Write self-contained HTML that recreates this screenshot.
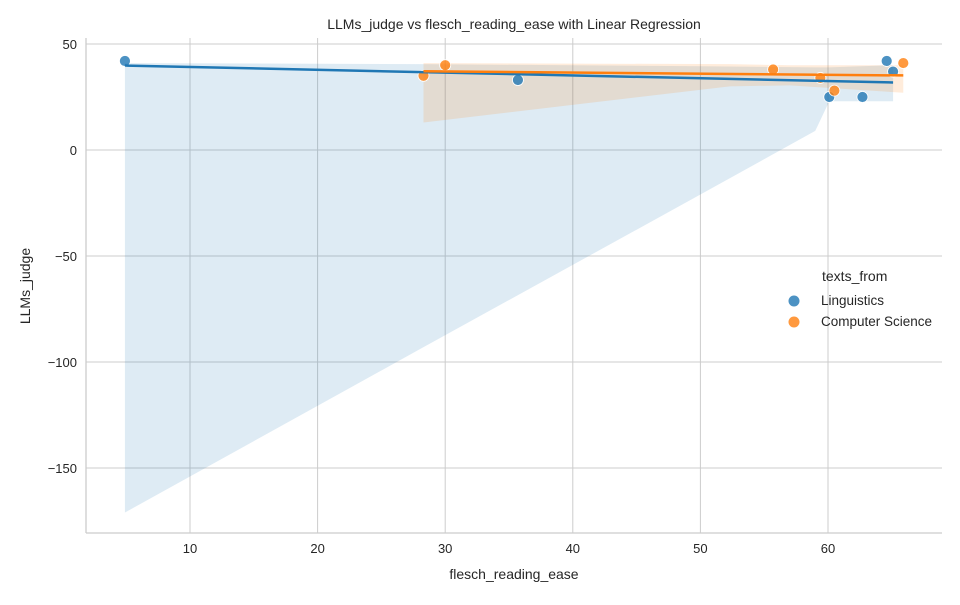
<!DOCTYPE html>
<html><head><meta charset="utf-8"><style>
body{margin:0;background:#fff;}
svg text{font-family:"Liberation Sans",sans-serif;fill:#262626;}
</style></head><body>
<svg id="c" width="960" height="600"></svg>
<script>
const lingX=[4.9,35.7,60.1,62.7,64.6,65.1];
const lingY=[42,33,25,25,42,37];
const csX=[28.3,30.0,55.7,59.4,60.5,65.9];
const csY=[35,40,38,34,28,41];
const xTicks=[10,20,30,40,50,60];
const yTicks=[50,0,-50,-100,-150];
const lingBandX=[4.9,28,50,59,60.1,65.1];
const lingBandUp=[41,40.5,39.5,39,39,40];
const lingBandLo=[-171,-94,-21,9,23,23];
const csBandX=[28.3,52.3,57,65.9];
const csBandUp=[41,40.5,40,40];
const csBandLo=[13,30,30.5,27];

const NS='http://www.w3.org/2000/svg';
const svg=document.getElementById('c');
const L=86,R=942,T=38,B=533;
const sx=v=>62.4+v*12.76;
const sy=v=>150-v*2.12;
function mk(t,a,p){const e=document.createElementNS(NS,t);for(const k in a)e.setAttribute(k,a[k]);(p||svg).appendChild(e);return e;}
xTicks.forEach(v=>{
 const g=mk('line',{x1:sx(v),x2:sx(v),y1:T,y2:B,stroke:'#cccccc','stroke-width':1});
 
 
 const t=mk('text',{x:sx(v),y:B+20,'text-anchor':'middle','font-size':13});t.textContent=v;
 
 
});
yTicks.forEach(v=>{
 const g=mk('line',{x1:L,x2:R,y1:sy(v),y2:sy(v),stroke:'#cccccc','stroke-width':1});
 
 
 const t=mk('text',{x:L-9,y:sy(v)+5,'text-anchor':'end','font-size':13});t.textContent=(v<0?'\u2212'+(-v):v);
 
 
});
const sp1=mk('line',{x1:L,x2:L,y1:T,y2:B,stroke:'#cccccc','stroke-width':1.3});


const sp2=mk('line',{x1:L,x2:R,y1:B,y2:B,stroke:'#cccccc','stroke-width':1.3});



function band(xs,up,lo,color,name){
 let d='M'+xs.map((x,i)=>sx(x)+','+sy(up[i])).join('L');
 d+='L'+xs.slice().reverse().map((x,i)=>sx(x)+','+sy(lo[lo.length-1-i])).join('L')+'Z';
 const p=mk('path',{d:d,fill:color,'fill-opacity':0.15});
 
 
}
function fit(xs,ys){const n=xs.length;const mx=xs.reduce((a,b)=>a+b)/n,my=ys.reduce((a,b)=>a+b)/n;let sxy=0,sxx=0;xs.forEach((x,i)=>{sxy+=(x-mx)*(ys[i]-my);sxx+=(x-mx)**2;});const b=sxy/sxx;return [b,my-b*mx];}
function regLine(xs,ys,color,name){
 const [b,a]=fit(xs,ys);const x0=Math.min(...xs),x1=Math.max(...xs);
 const l=mk('line',{x1:sx(x0),y1:sy(a+b*x0),x2:sx(x1),y2:sy(a+b*x1),stroke:color,'stroke-width':2.5});
 
 
}
function pts(xs,ys,color,name){
 xs.forEach((x,i)=>{const c=mk('circle',{cx:sx(x),cy:sy(ys[i]),r:5.5,fill:color,'fill-opacity':0.8,stroke:'#fff','stroke-width':0.8});
 
 });
}
band(lingBandX,lingBandUp,lingBandLo,'#1f77b4','linguistics-ci-band');
band(csBandX,csBandUp,csBandLo,'#ff7f0e','cs-ci-band');
pts(lingX,lingY,'#1f77b4','linguistics-point');
pts(csX,csY,'#ff7f0e','cs-point');
regLine(lingX,lingY,'#1f77b4','linguistics-regression-line');
regLine(csX,csY,'#ff7f0e','cs-regression-line');
</script>
<svg width="960" height="600" style="position:absolute;left:0;top:0">
<text x="514" y="29" text-anchor="middle" font-size="14">LLMs_judge vs flesch_reading_ease with Linear Regression</text>
<text x="514" y="579" text-anchor="middle" font-size="14">flesch_reading_ease</text>
<text x="30" y="286" text-anchor="middle" font-size="14" transform="rotate(-90 30 286)">LLMs_judge</text>
<g>
<text x="822" y="281" font-size="14">texts_from</text>
<circle cx="794" cy="301" r="5.5" fill="#1f77b4" fill-opacity="0.8"/>
<text x="821" y="305" font-size="13.5">Linguistics</text>
<circle cx="794" cy="322" r="5.5" fill="#ff7f0e" fill-opacity="0.8"/>
<text x="821" y="326" font-size="13.5">Computer Science</text>
</g>
</svg>
</body></html>
